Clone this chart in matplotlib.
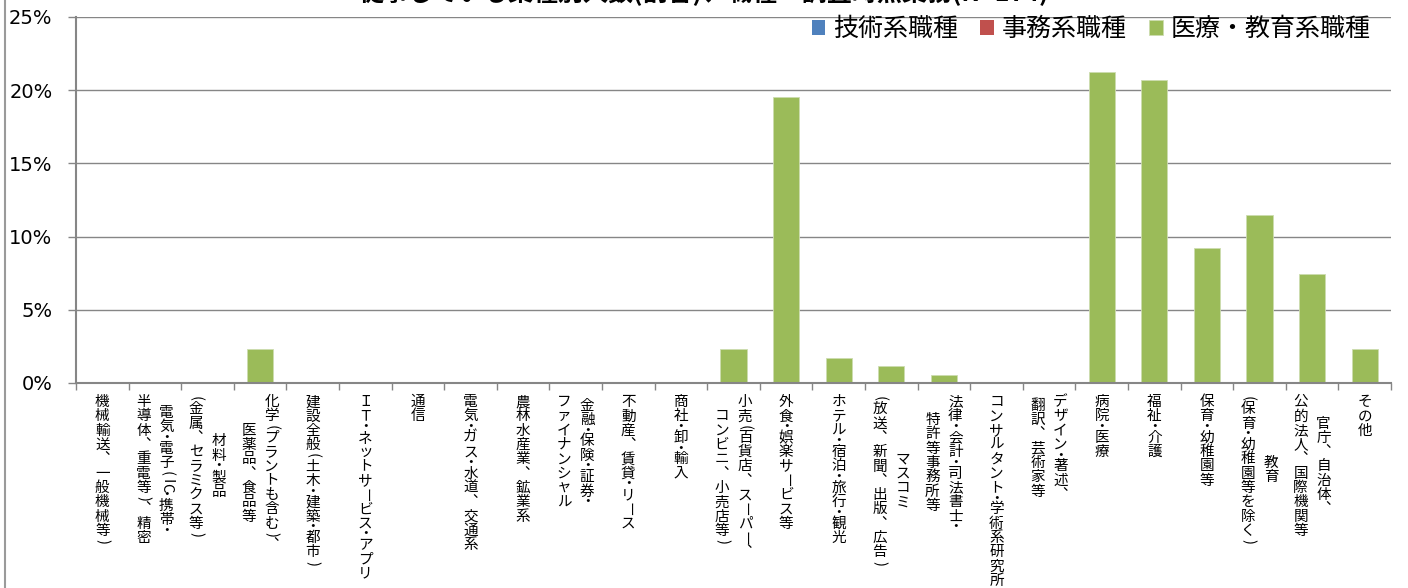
import matplotlib
matplotlib.use("Agg")
import matplotlib.pyplot as plt
from matplotlib.lines import Line2D
from matplotlib.ticker import PercentFormatter, FixedLocator

plt.rcParams['font.family'] = ['Noto Sans CJK JP', 'DejaVu Sans']

title = "従事している業種別人数(割合)、職種・調査時点業務(N=174)"

categories = [
    "機械輸送、一般機械等)",
    "電気・電子(IC・携帯・\n半導体、重電等)、精密",
    "材料・製品\n(金属、セラミクス等)",
    "化学(プラントも含む)、\n医薬品、食品等",
    "建設全般(土木・建築・都市)",
    "ＩＴ・ネットサービス・アプリ",
    "通信",
    "電気・ガス・水道、交通系",
    "農林水産業、鉱業系",
    "金融・保険・証券・\nファイナンシャル",
    "不動産、賃貸・リース",
    "商社・卸・輸入",
    "小売(百貨店、スーパー、\nコンビニ、小売店等)",
    "外食・娯楽サービス等",
    "ホテル・宿泊・旅行・観光",
    "マスコミ\n(放送、新聞、出版、広告)",
    "法律・会計・司法書士・\n特許等事務所等",
    "コンサルタント・学術系研究所",
    "デザイン・著述、\n翻訳、芸術家等",
    "病院・医療",
    "福祉・介護",
    "保育・幼稚園等",
    "教育\n(保育・幼稚園等を除く)",
    "官庁、自治体、\n公的法人、国際機関等",
    "その他",
]

series_names = ["技術系職種", "事務系職種", "医療・教育系職種"]
tech = [0] * 25
office = [0] * 25
medical = [0, 0, 0, 2.30, 0, 0, 0, 0, 0, 0, 0, 0, 2.30, 19.54, 1.72,
           1.15, 0.57, 0, 0, 21.26, 20.69, 9.20, 11.49, 7.47, 2.30]

colors = ["#4F81BD", "#C0504D", "#9BBB59"]
grid_c = "#868686"


def cells(col):
    # split one vertical column into (glyph, height in em, rotation)
    out = []
    for ch in col:
        if ch == "、":
            out.append(("︑", 1.0, 0))
        elif ch == "ー":
            out.append(("ー", 1.0, 270))
        elif ch == "・":
            out.append(("・", 0.5, 0))
        elif ord(ch) < 128:
            out.append((ch, 0.5, 270))
        else:
            out.append((ch, 1.0, 0))
    return out


def vertical_label(ax, x, text, size=10.5, cell=10.3, top=8.6, gap=16.5):
    cols = [cells(c) for c in text.split("\n")]
    n = len(cols)
    lens = [sum(h for _, h, _ in c) for c in cols]
    longest = max(lens)
    for k, col in enumerate(cols):
        dx = ((n - 1) / 2 - k) * gap
        y = -top - (longest - lens[k]) / 2 * cell
        for ch, h, rot in col:
            ax.annotate(ch, xy=(x, 0), xycoords=("data", "axes fraction"),
                        xytext=(dx, y - h * cell / 2), textcoords="offset points",
                        ha="center", va="center", rotation=rot, fontsize=size,
                        annotation_clip=False)
            y -= h * cell


fig = plt.figure(figsize=(14.08, 5.88), dpi=100)
ax = fig.add_axes([76 / 1408, 1 - 383 / 588, 1315 / 1408, 366 / 588])

x = list(range(len(categories)))
bottom2 = [a + b for a, b in zip(tech, office)]
b1 = ax.bar(x, tech, width=0.5, color=colors[0], linewidth=0, label=series_names[0])
b2 = ax.bar(x, office, width=0.5, bottom=tech, color=colors[1], linewidth=0, label=series_names[1])
b3 = ax.bar(x, medical, width=0.5, bottom=bottom2, color=colors[2],
            edgecolor="#cddcaf", linewidth=0.6, label=series_names[2])

ax.set_xlim(-0.5, len(categories) - 0.5)
ax.set_ylim(0, 25)
ax.set_yticks([0, 5, 10, 15, 20, 25])
ax.yaxis.set_major_formatter(PercentFormatter(xmax=100, decimals=0))
ax.yaxis.grid(True, color=grid_c, linewidth=1.0)
ax.set_axisbelow(True)

ax.xaxis.set_major_locator(FixedLocator([i - 0.5 for i in range(len(categories) + 1)]))
ax.set_xticklabels([])
ax.tick_params(axis="x", direction="out", length=5, width=1.0, color=grid_c)
ax.tick_params(axis="y", direction="out", length=6, width=1.0, color=grid_c,
               labelsize=14, pad=11)
for lbl in ax.get_yticklabels():
    lbl.set_fontfamily("DejaVu Sans")

for s in ["top", "right"]:
    ax.spines[s].set_visible(False)
for s in ["left", "bottom"]:
    ax.spines[s].set_color(grid_c)
    ax.spines[s].set_linewidth(1.5)

for i, lab in enumerate(categories):
    vertical_label(ax, i, lab)

ax.legend(handles=[b1, b2, b3], loc="upper right", bbox_to_anchor=(0.992, 1.03),
          ncol=3, frameon=False, fontsize=18, handlelength=0.55, handleheight=0.55,
          handletextpad=0.3, columnspacing=0.9, borderaxespad=0)

fig.text(0.5, 1 - 1 / 588, title, ha="center", va="baseline",
         fontsize=18, fontweight="bold")
fig.add_artist(Line2D([4.5 / 1408, 4.5 / 1408], [0, 1], color="#9a9a9a", linewidth=1.5))

fig.savefig("out.png", dpi=100)
